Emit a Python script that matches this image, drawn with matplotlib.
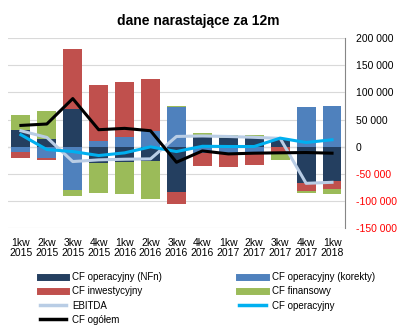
import numpy as np
import matplotlib
matplotlib.use("Agg")
import matplotlib.pyplot as plt
from matplotlib.lines import Line2D
from matplotlib.ticker import FuncFormatter

plt.rcParams['font.family'] = ['Liberation Sans', 'DejaVu Sans']

# dane
kwartaly = ['1kw\n2015', '2kw\n2015', '3kw\n2015', '4kw\n2015', '1kw\n2016', '2kw\n2016',
            '3kw\n2016', '4kw\n2016', '1kw\n2017', '2kw\n2017', '3kw\n2017', '4kw\n2017', '1kw\n2018']
cf_nfn = [31000, 14200, 70300, -29600, -28400, -25900, -83300, 20000, 16600, 18500, 13000, -66000, -62900]
cf_korekty = [-8700, -19700, -79500, 11100, 17300, 28400, 74000, -11000, -13900, -13000, 0, 74000, 75800]
cf_inwest = [-11000, -4300, 109000, 103600, 101200, 95600, -22200, -23500, -23700, -19800, -14000, -14800, -14800]
cf_finans = [28000, 51000, -11100, -54900, -58600, -70300, 2000, 5000, 5000, 3000, -10000, -3700, -9200]
ebitda = [29600, 17300, -27100, -24000, -22800, -22200, 19100, 20000, 19000, 17500, 15500, -67200, -65300]
cf_oper = [22200, -5000, -8700, -16000, -11100, 0, -8700, 1000, 600, 600, 16000, 8000, 13000]
cf_ogolem = [39400, 42000, 88800, 31500, 34000, 29600, -28400, -7500, -13000, -11700, -11000, -10500, -11700]

serie_slupki = [
    ('CF operacyjny (NFn)', cf_nfn, '#243F60'),
    ('CF operacyjny (korekty)', cf_korekty, '#4F81BD'),
    ('CF inwestycyjny', cf_inwest, '#C0504D'),
    ('CF finansowy', cf_finans, '#9BBB59'),
]

fig = plt.figure(figsize=(3.97, 3.29), dpi=100)
ax = fig.add_axes([0.020, 0.306, 0.849, 0.578])

x = np.arange(len(kwartaly))
pos_bottom = np.zeros(len(x))
neg_bottom = np.zeros(len(x))
for nazwa, vals, kolor in serie_slupki:
    v = np.array(vals, dtype=float)
    bottom = np.where(v >= 0, pos_bottom, neg_bottom)
    ax.bar(x, v, bottom=bottom, width=0.73, color=kolor, zorder=2)
    pos_bottom += np.where(v >= 0, v, 0)
    neg_bottom += np.where(v < 0, v, 0)

ax.plot(x, ebitda, color='#B9CDE5', lw=2.2, zorder=3)
ax.plot(x, cf_oper, color='#00B0F0', lw=2.2, zorder=4)
ax.plot(x, cf_ogolem, color='black', lw=2.2, zorder=5)

ax.set_xlim(-0.5, len(x) - 0.5)
ax.set_ylim(-150000, 200000)
ax.set_yticks(np.arange(-150000, 200001, 50000))
ax.yaxis.tick_right()
ax.yaxis.set_major_formatter(FuncFormatter(lambda v, p: f'{int(v):,}'.replace(',', ' ')))
for lab, val in zip(ax.get_yticklabels(), ax.get_yticks()):
    lab.set_color('#FF0000' if val < 0 else 'black')
ax.tick_params(axis='y', length=0, labelsize=7.5, pad=8)
ax.set_xticks(x)
ax.set_xticklabels(kwartaly, fontsize=7.5, linespacing=1.05)
ax.tick_params(axis='x', length=0, pad=7)

ax.grid(axis='y', color='#D9D9D9', lw=0.8, zorder=0)
ax.axhline(0, color='#868686', lw=0.8, zorder=1)
for s in ['left', 'top', 'bottom']:
    ax.spines[s].set_visible(False)
ax.spines['right'].set_color('#868686')
ax.spines['right'].set_zorder(1)

fig.text(0.5, 0.936, 'dane narastające za 12m', ha='center', va='center',
         fontsize=10, fontweight='bold')

uchwyty = [
    Line2D([], [], color='#243F60', lw=5),
    Line2D([], [], color='#C0504D', lw=5),
    Line2D([], [], color='#B9CDE5', lw=2.5),
    Line2D([], [], color='black', lw=2.5),
    Line2D([], [], color='#4F81BD', lw=5),
    Line2D([], [], color='#9BBB59', lw=5),
    Line2D([], [], color='#00B0F0', lw=2.5),
]
etykiety = ['CF operacyjny (NFn)', 'CF inwestycyjny', 'EBITDA', 'CF ogółem',
            'CF operacyjny (korekty)', 'CF finansowy', 'CF operacyjny']
fig.legend(uchwyty, etykiety, ncol=2, loc='upper left', bbox_to_anchor=(0.1, 0.172),
           frameon=False, fontsize=7, handlelength=2.7, handletextpad=0.6,
           columnspacing=8.0, labelspacing=0.42, borderaxespad=0, borderpad=0)

fig.savefig('out.png', dpi=100)
